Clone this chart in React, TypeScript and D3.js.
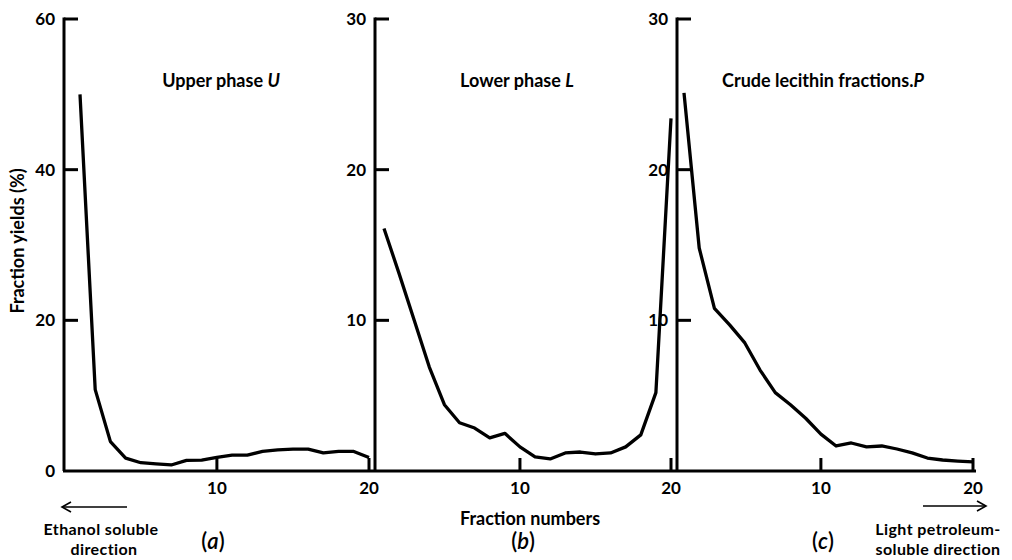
import React from "react";
import * as d3 from "d3";

const fractions = d3.range(1, 21);
const upperPhaseU = [50, 10.8, 3.9, 1.7, 1.1, 0.95, 0.8, 1.4, 1.45, 1.8, 2.1, 2.1, 2.6, 2.8, 2.9, 2.9, 2.4, 2.6, 2.6, 1.8];
const lowerPhaseL = [16.1, 13.1, 10.0, 6.9, 4.4, 3.2, 2.85, 2.2, 2.5, 1.6, 0.93, 0.8, 1.2, 1.26, 1.13, 1.2, 1.6, 2.4, 5.2, 23.4];
const crudeLecithinP = [25.1, 14.8, 10.8, 9.7, 8.5, 6.7, 5.2, 4.4, 3.5, 2.45, 1.66, 1.86, 1.6, 1.66, 1.46, 1.2, 0.86, 0.73, 0.66, 0.6];

const xTickValues = [10, 20];
const yTicksA = [20, 40, 60];
const yLabelsA = [0, 20, 40, 60];
const yTicksBC = [10, 20, 30];

const W = 1012;
const H = 560;
const BASE_Y = 471;
const TOP_Y = 19;
const FONT = "Lato, 'Open Sans', sans-serif";

type Panel = {
  key: string;
  axisX: number;
  x1: number;
  x20: number;
  yMax: number;
  values: number[];
  yTicks: number[];
  yLabels: number[];
  title: string;
  titleItalic: string;
  titleX: number;
};

const panels: Panel[] = [
  { key: "a", axisX: 64, x1: 80, x20: 369, yMax: 60, values: upperPhaseU, yTicks: yTicksA, yLabels: yLabelsA, title: "Upper phase ", titleItalic: "U", titleX: 221 },
  { key: "b", axisX: 375, x1: 384, x20: 671, yMax: 30, values: lowerPhaseL, yTicks: yTicksBC, yLabels: yTicksBC, title: "Lower phase ", titleItalic: "L", titleX: 517 },
  { key: "c", axisX: 677, x1: 684, x20: 973, yMax: 30, values: crudeLecithinP, yTicks: yTicksBC, yLabels: yTicksBC, title: "Crude lecithin fractions.", titleItalic: "P", titleX: 823 },
];

function PanelView({ p }: { p: Panel }) {
  const x = d3.scaleLinear().domain([1, 20]).range([p.x1, p.x20]);
  const y = d3.scaleLinear().domain([0, p.yMax]).range([BASE_Y, TOP_Y]);
  const line = d3
    .line<number>()
    .x((_, i) => x(fractions[i]))
    .y((d) => y(d));
  return (
    <g>
      <line x1={p.axisX} x2={p.axisX} y1={TOP_Y - 1.5} y2={BASE_Y} stroke="#000" strokeWidth={3} />
      {p.yTicks.map((t) => (
        <line key={"yt" + t} x1={p.axisX} x2={p.axisX + 14} y1={y(t)} y2={y(t)} stroke="#000" strokeWidth={3} />
      ))}
      {p.yLabels.map((t) => (
        <text key={"yl" + t} x={p.axisX - 9} y={y(t)} dy="0.36em" textAnchor="end" fontSize={17} fontWeight={700} fontFamily={FONT}>
          {t}
        </text>
      ))}
      {xTickValues.map((t) => (
        <line key={"xt" + t} x1={x(t)} x2={x(t)} y1={BASE_Y} y2={BASE_Y - 13} stroke="#000" strokeWidth={3} />
      ))}
      {xTickValues.map((t) => (
        <text key={"xl" + t} x={x(t)} y={494} textAnchor="middle" fontSize={17} fontWeight={700} fontFamily={FONT}>
          {t}
        </text>
      ))}
      <path d={line(p.values) || ""} fill="none" stroke="#000" strokeWidth={3.3} strokeLinejoin="round" />
      <text x={p.titleX} y={87} textAnchor="middle" fontSize={18} fontWeight={700} fontFamily={FONT}>
        {p.title}
        <tspan fontStyle="italic">{p.titleItalic}</tspan>
      </text>
    </g>
  );
}

export default function App() {
  const txt = { fontSize: 18, fontWeight: 700, fontFamily: FONT } as const;
  const small = { fontSize: 16, fontWeight: 700, fontFamily: FONT, letterSpacing: 0.4 } as const;
  const paren = { fontSize: 22, fontWeight: 600, fontFamily: FONT } as const;
  return (
    <svg width={W} height={H} style={{ position: "absolute", left: 0, top: 0, background: "#fff" }}>
      <rect width={W} height={H} fill="#fff" />
      <line x1={63} x2={976} y1={BASE_Y} y2={BASE_Y} stroke="#000" strokeWidth={3} />
      {panels.map((p) => (
        <PanelView key={p.key} p={p} />
      ))}
      <text transform="translate(24,241) rotate(-90)" textAnchor="middle" {...txt}>
        Fraction yields (%)
      </text>
      <text x={530} y={525} textAnchor="middle" {...txt}>Fraction numbers</text>
      <text x={213} y={549} textAnchor="middle" {...paren}>
        (<tspan fontStyle="italic">a</tspan>)
      </text>
      <text x={523} y={549} textAnchor="middle" {...paren}>
        (<tspan fontStyle="italic">b</tspan>)
      </text>
      <text x={823} y={549} textAnchor="middle" {...paren}>
        (<tspan fontStyle="italic">c</tspan>)
      </text>
      <text x={101} y={535} textAnchor="middle" {...small}>Ethanol soluble</text>
      <text x={104} y={555} textAnchor="middle" {...small}>direction</text>
      <text x={938} y={535} textAnchor="middle" {...small}>Light petroleum-</text>
      <text x={938} y={555} textAnchor="middle" {...small}>soluble direction</text>
      <line x1={63} x2={127} y1={507} y2={507} stroke="#000" strokeWidth={1.6} />
      <path d="M71,502 L62,507 L71,512" fill="none" stroke="#000" strokeWidth={1.6} />
      <line x1={923} x2={985} y1={506} y2={506} stroke="#000" strokeWidth={1.6} />
      <path d="M977,501 L986,506 L977,511" fill="none" stroke="#000" strokeWidth={1.6} />
    </svg>
  );
}
